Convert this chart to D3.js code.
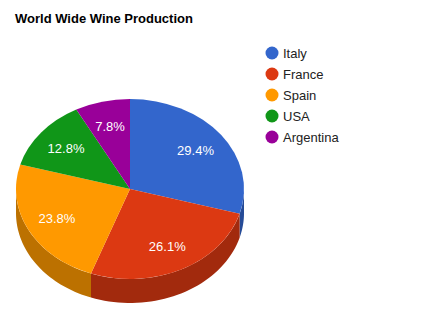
<!DOCTYPE html>
<html>
<head>
<meta charset="utf-8">
<script src="https://cdn.jsdelivr.net/npm/d3@7"></script>
<style>
  body { margin: 0; background: #fff; }
  svg { font-family: Arial, "Liberation Sans", sans-serif; }
</style>
</head>
<body>
<div id="chart"></div>
<script>
// data
const countries = ["Italy", "France", "Spain", "USA", "Argentina"];
const shares = [29.4, 26.1, 23.8, 12.8, 7.8];
const colors = ["#3366cc", "#dc3912", "#ff9900", "#109618", "#990099"];

const width = 421;
const height = 319;

// pie geometry (ellipse + depth for the 3d look)
const cx = 130, cy = 189;
const rx = 114, ry = 90;
const depth = 24;

const svg = d3.select("#chart")
    .append("svg")
    .attr("width", width)
    .attr("height", height);

svg.append("text")
    .attr("x", 15)
    .attr("y", 23)
    .attr("font-size", 13)
    .attr("font-weight", "bold")
    .attr("fill", "#000")
    .text("World Wide Wine Production");

const pie = d3.pie().sort(null).value(d => d);
const arcs = pie(shares);
const total = d3.sum(shares);

// point on ellipse for angle measured clockwise from 12 o'clock
function pt(a, dy) {
    return [cx + rx * Math.sin(a), cy - ry * Math.cos(a) + (dy || 0)];
}

// sides first - only the front half (angles between PI/2 and 3PI/2) shows
const sides = svg.append("g").attr("class", "sides");
arcs.forEach((d, i) => {
    const a0 = Math.max(d.startAngle, Math.PI / 2);
    const a1 = Math.min(d.endAngle, Math.PI * 3 / 2);
    if (a1 <= a0) return;
    const steps = 40;
    const top = d3.range(steps + 1).map(k => pt(a0 + (a1 - a0) * k / steps));
    const bottom = top.slice().reverse().map(p => [p[0], p[1] + depth]);
    sides.append("path")
        .attr("d", d3.line()(top.concat(bottom)) + "Z")
        .attr("fill", d3.color(colors[i]).darker(0.85));
});

// top face: circle arcs squashed into an ellipse
const arc = d3.arc().innerRadius(0).outerRadius(rx);
svg.append("g")
    .attr("transform", `translate(${cx},${cy}) scale(1,${ry / rx})`)
    .selectAll("path")
    .data(arcs)
    .enter().append("path")
    .attr("d", arc)
    .attr("fill", (d, i) => colors[i]);

// percentage labels
svg.append("g")
    .selectAll("text")
    .data(arcs)
    .enter().append("text")
    .attr("x", d => pt((d.startAngle + d.endAngle) / 2)[0] * 0.72 + cx * 0.28)
    .attr("y", d => pt((d.startAngle + d.endAngle) / 2)[1] * 0.72 + cy * 0.28)
    .attr("dy", "0.35em")
    .attr("text-anchor", "middle")
    .attr("font-size", 13)
    .attr("fill", "#fff")
    .text(d => (d.value / total * 100).toFixed(1) + "%");

// legend
const legend = svg.append("g")
    .selectAll("g")
    .data(countries)
    .enter().append("g")
    .attr("transform", (d, i) => `translate(272,${53 + i * 21})`);

legend.append("circle")
    .attr("r", 6.5)
    .attr("fill", (d, i) => colors[i]);

legend.append("text")
    .attr("x", 11)
    .attr("dy", "0.35em")
    .attr("font-size", 13)
    .attr("fill", "#222")
    .text(d => d);
</script>
</body>
</html>
